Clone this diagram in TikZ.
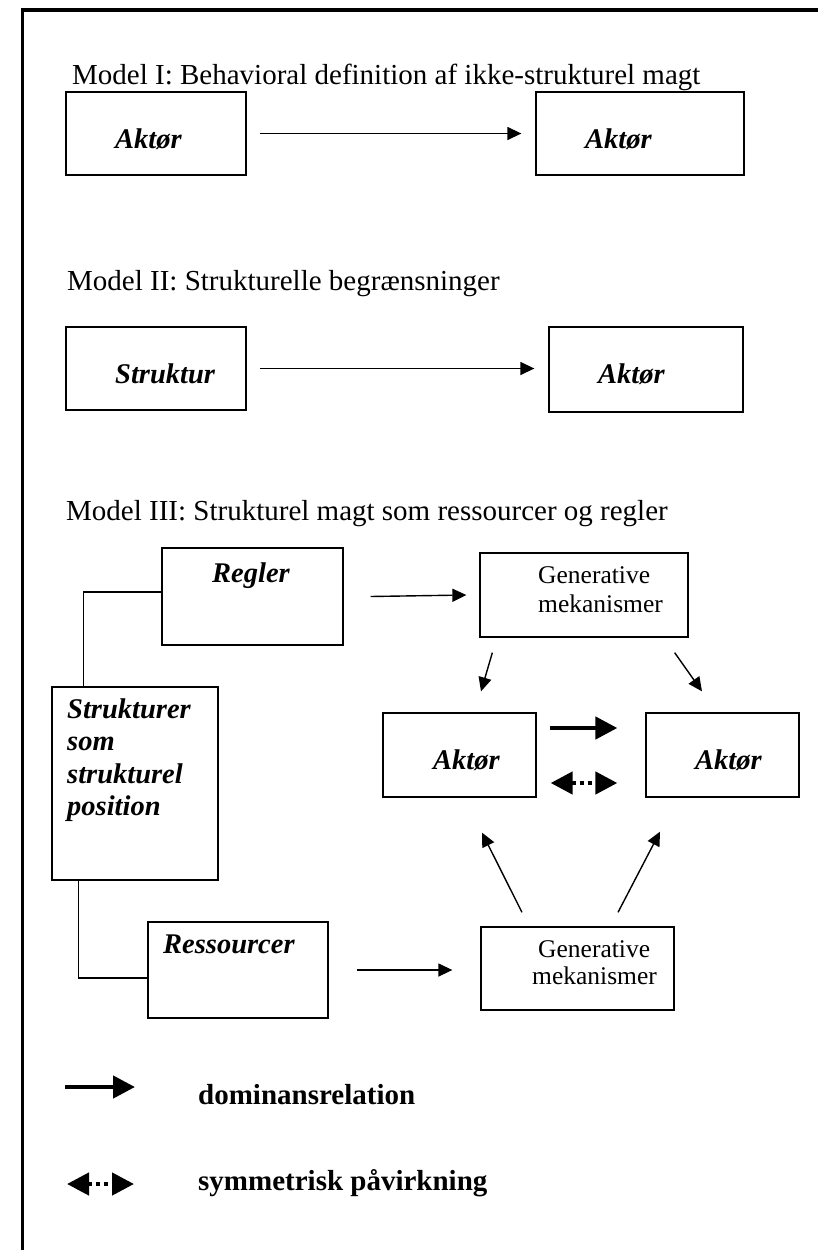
\documentclass[tikz,border=0pt]{standalone}
\usepackage{fontspec}
\setmainfont{Liberation Serif}
\usetikzlibrary{arrows.meta,calc}
\begin{document}
\begin{tikzpicture}[x=1pt,y=-1pt,
  box/.style={draw, line width=1.3pt, rectangle, inner sep=0pt},
  ttl/.style={anchor=base west, inner sep=0pt, font=\fontsize{29}{34}\selectfont},
  lbl/.style={anchor=base west, inner sep=0pt, font=\fontsize{28.5}{34}\selectfont\bfseries\itshape},
  gen/.style={anchor=base west, inner sep=0pt, font=\fontsize{25.5}{30}\selectfont},
  leg/.style={anchor=base west, inner sep=0pt, font=\fontsize{29}{34}\selectfont\bfseries},
  arr/.style={line width=1.4pt, -{Triangle[length=14pt,width=13pt]}},
  dom/.style={line width=4.5pt, -{Triangle[length=22pt,width=22pt]}},
  sym/.style={line width=4.5pt, dash pattern=on 4pt off 4pt, {Triangle[length=22pt,width=22pt]}-{Triangle[length=22pt,width=22pt]}},
  conn/.style={line width=1.3pt}
]
\useasboundingbox (0,0) rectangle (818,1250);
\fill[white] (0,0) rectangle (818,1250);
% frame
\draw[line width=3.3pt, line join=miter] (22.5,1250) -- (22.5,10) -- (818,10);

% ---------- Model I ----------
\node[ttl] (t1) at (72,84) {Model I: Behavioral definition af ikke-strukturel magt};
\node[box, minimum width=180pt, minimum height=83pt] (b1) at (156,133.5) {};
\node[box, minimum width=208pt, minimum height=83pt] (b2) at (640,133.5) {};
\node[lbl] (b1t) at (115,148) {Aktør};
\node[lbl] (b2t) at (585,148) {Aktør};
\draw[arr] ([xshift=13pt]b1.east) -- ([xshift=-14pt]b2.west);

% ---------- Model II ----------
\node[ttl] (t2) at (67,290) {Model II: Strukturelle begrænsninger};
\node[box, minimum width=180pt, minimum height=83pt] (b3) at (156,368.5) {};
\node[box, minimum width=194pt, minimum height=85pt] (b4) at (646,369.5) {};
\node[lbl] (b3t) at (115,383) {Struktur};
\node[lbl] (b4t) at (598,383) {Aktør};
\draw[arr] ([xshift=13pt]b3.east) -- ([xshift=-14pt]b3.east -| b4.west);

% ---------- Model III ----------
\node[ttl] (t3) at (66,520) {Model III: Strukturel magt som ressourcer og regler};
\node[box, minimum width=181pt, minimum height=97pt] (regler) at (252.5,596.5) {};
\node[lbl] (reglert) at (212,582) {Regler};
\node[box, minimum width=208pt, minimum height=84pt] (gen1) at (584,595) {};
\node[gen] (gen1a) at (538,583) {Generative};
\node[gen] (gen1b) at (538,612) {mekanismer};
\node[box, minimum width=166pt, minimum height=193pt] (struk) at (135,783.5) {};
\node[lbl] (s1) at (67,718) {Strukturer};
\node[lbl] (s2) at (67,750) {som};
\node[lbl] (s3) at (67,783) {strukturel};
\node[lbl] (s4) at (67,815) {position};
\node[box, minimum width=153pt, minimum height=84pt] (al) at (459.5,755) {};
\node[lbl] (alt) at (433,769) {Aktør};
\node[box, minimum width=153pt, minimum height=84pt] (ar) at (722.5,755) {};
\node[lbl] (art) at (695,769) {Aktør};
\node[box, minimum width=180pt, minimum height=96pt] (res) at (238,970) {};
\node[lbl] (rest) at (163,953) {Ressourcer};
\node[box, minimum width=193pt, minimum height=83pt] (gen2) at (577.5,968.5) {};
\node[gen] (gen2a) at (538,957) {Generative};
\node[gen] (gen2b) at (532,984) {mekanismer};

% connectors
\draw[conn] ([yshift=4.5pt]regler.west) -| ([xshift=32pt]struk.north west);
\draw[conn] ([xshift=27pt]struk.south west) |- ([yshift=-8pt]res.west);
\draw[arr] ([xshift=27pt]regler.east) -- ([xshift=-13pt]gen1.west);
\draw[arr] ($(gen1.south west)+(13,15)$) -- ($(al.north)+(21.5,-21)$);
\draw[arr] ($(gen1.south east)+(-14,15)$) -- ($(ar.north)+(-20.5,-21)$);
\draw[dom] ($(al.east)+(13,-27)$) -- ($(ar.west)+(-28,-27)$);
\draw[sym] ($(al.east)+(14,28)$) -- ($(ar.west)+(-28,28)$);
\draw[arr] ([xshift=28pt]res.east) -- ([xshift=-28pt]res.east -| gen2.west);
\draw[arr] ($(gen2.north)+(-55.5,-14)$) -- ($(al.south)+(22.5,35)$);
\draw[arr] ($(gen2.north)+(40.5,-14)$) -- ($(ar.south)+(-62.5,34)$);

% ---------- legend ----------
\coordinate (d1) at (65,1087);
\coordinate (d2) at (135,1087);
\draw[dom] (d1) -- (d2);
\node[leg] (dt) at (198,1104) {dominansrelation};
\coordinate (s1a) at (67,1184);
\coordinate (s2a) at (134,1184);
\draw[sym] (s1a) -- (s2a);
\node[leg] (st) at (198,1190) {symmetrisk påvirkning};
\end{tikzpicture}
\end{document}
